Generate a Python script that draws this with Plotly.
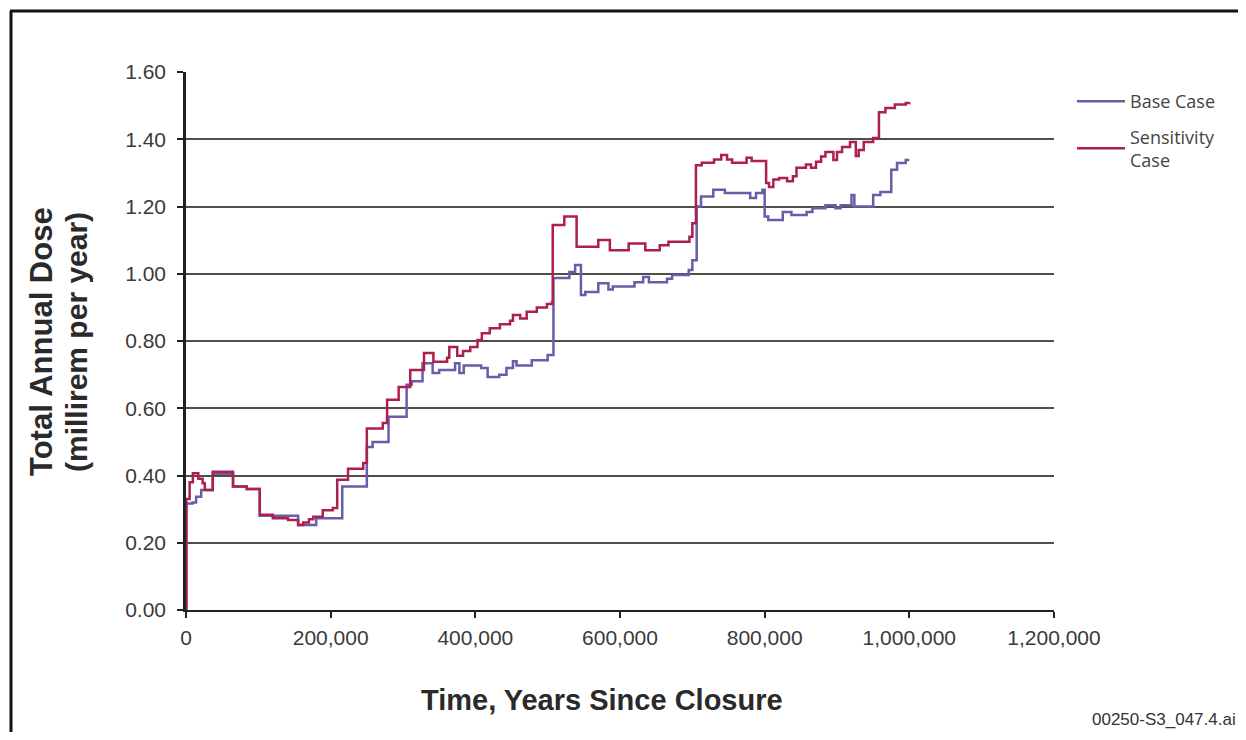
import plotly.graph_objects as go

# ---- data (years since closure, dose in millirem/yr) ----
base_x = [0, 500, 9000, 14000, 21000, 37000, 65000, 84000, 102000, 155000, 180000,
          216000, 250000, 258000, 280000, 305000, 312000, 327000, 341000, 350000,
          372000, 378000, 384000, 408000, 417000, 433000, 443000, 452000, 457000,
          478000, 500000, 508000, 530000, 538000, 546000, 552000, 570000, 584000,
          590000, 620000, 632000, 640000, 665000, 672000, 695000, 700000, 706000,
          712000, 729000, 745000, 780000, 788000, 797000, 800000, 805000, 825000,
          837000, 858000, 866000, 884000, 898000, 905000, 920000, 924000, 950000,
          960000, 975000, 983000, 995000, 1000000]
base_y = [0.0, 0.317, 0.32, 0.337, 0.357, 0.405, 0.367, 0.36, 0.28, 0.253, 0.273,
          0.367, 0.485, 0.5, 0.575, 0.67, 0.68, 0.734, 0.705, 0.714,
          0.734, 0.705, 0.727, 0.72, 0.693, 0.70, 0.72, 0.74, 0.727,
          0.743, 0.758, 0.987, 1.005, 1.026, 0.937, 0.946, 0.972, 0.953,
          0.962, 0.975, 0.99, 0.975, 0.985, 0.996, 1.011, 1.04, 1.2,
          1.23, 1.25, 1.24, 1.225, 1.24, 1.25, 1.17, 1.16, 1.184,
          1.175, 1.184, 1.195, 1.204, 1.195, 1.204, 1.234, 1.2, 1.234,
          1.243, 1.309, 1.329, 1.338, 1.338]

sens_x = [0, 500, 5000, 9500, 17000, 23000, 26000, 37000, 65000, 84000, 102000,
          120000, 141000, 155000, 162000, 170000, 176000, 189000, 203000, 209000,
          224000, 245000, 250000, 272000, 278000, 294000, 310000, 329000, 342000,
          361000, 364000, 375000, 383000, 393000, 403000, 409000, 420000, 434000,
          448000, 452000, 462000, 471000, 485000, 499000, 506000, 507000, 523000,
          540000, 570000, 586000, 612000, 635000, 655000, 667000, 696000, 700000,
          705000, 713000, 730000, 740000, 748000, 755000, 775000, 782000, 802000,
          806000, 812000, 820000, 831000, 839000, 844000, 857000, 864000, 871000,
          878000, 884000, 895000, 900000, 907000, 918000, 926000, 930000, 937000,
          950000, 958000, 967000, 980000, 995000, 1000000]
sens_y = [0.0, 0.33, 0.38, 0.407, 0.39, 0.377, 0.357, 0.411, 0.367, 0.36, 0.283,
          0.273, 0.268, 0.253, 0.26, 0.27, 0.277, 0.297, 0.303, 0.387,
          0.42, 0.437, 0.54, 0.556, 0.625, 0.663, 0.714, 0.764, 0.738,
          0.75, 0.782, 0.756, 0.77, 0.782, 0.803, 0.823, 0.838, 0.85,
          0.86, 0.877, 0.867, 0.887, 0.90, 0.91, 0.916, 1.145, 1.17,
          1.08, 1.10, 1.07, 1.09, 1.07, 1.085, 1.095, 1.11, 1.15,
          1.323, 1.33, 1.34, 1.353, 1.34, 1.33, 1.345, 1.335, 1.27,
          1.258, 1.28, 1.285, 1.275, 1.29, 1.315, 1.325, 1.315, 1.333,
          1.349, 1.362, 1.338, 1.362, 1.377, 1.392, 1.35, 1.368, 1.392,
          1.404, 1.48, 1.493, 1.503, 1.508, 1.51]

y_ticks = [0.0, 0.2, 0.4, 0.6, 0.8, 1.0, 1.2, 1.4, 1.6]
y_tick_labels = ["0.00", "0.20", "0.40", "0.60", "0.80", "1.00", "1.20", "1.40", "1.60"]
x_ticks = [0, 200000, 400000, 600000, 800000, 1000000, 1200000]
x_tick_labels = ["0", "200,000", "400,000", "600,000", "800,000", "1,000,000", "1,200,000"]

BASE_COLOR = "#6a5ca8"
SENS_COLOR = "#ad1f4c"
GRID_COLOR = "#544c47"
FONT = "Liberation Sans, Arial"
TICK_FONT = dict(family=FONT, size=21, color="#3a3a3a")

fig = go.Figure()
fig.add_trace(go.Scatter(x=base_x, y=base_y, mode="lines", name="Base Case",
                         legendgroup="base",
                         line=dict(color=BASE_COLOR, width=2.5, shape="hv")))
fig.add_trace(go.Scatter(x=sens_x, y=sens_y, mode="lines", name="Sensitivity<br>Case",
                         legendgroup="sens",
                         line=dict(color=SENS_COLOR, width=2.5, shape="hv")))

# page body has an 8px margin; work in page pixels and convert
OFF = 8
W, H = 1246 - OFF, 740 - 2 * OFF
PL, PR, PT, PB = 186, 1054, 72, 610          # plot area in page pixels
L, T = PL - OFF, PT - OFF
R, B = W - (PR - OFF), H - (PB - OFF)
pw, ph = PR - PL, PB - PT

def px2paper_x(px):
    return (px - PL) / pw

def py2paper_y(py):
    return (PB - py) / ph

fig.update_layout(
    width=W, height=H,
    margin=dict(l=L, r=R, t=T, b=B),
    paper_bgcolor="#ffffff", plot_bgcolor="#ffffff",
    showlegend=True,
    legend=dict(x=px2paper_x(1072), y=py2paper_y(83), xanchor="left", yanchor="top",
                font=dict(family="Open Sans", size=18, color="#444444"),
                bgcolor="rgba(0,0,0,0)", tracegroupgap=9, itemwidth=48),
    xaxis=dict(range=[0, 1200000], tickvals=x_ticks, ticktext=x_tick_labels,
               showgrid=False, zeroline=False, showline=True, linecolor="#222222",
               linewidth=2, ticks="outside", ticklen=6, tickwidth=2, tickcolor="#222222",
               tickfont=TICK_FONT, ticklabelstandoff=2),
    yaxis=dict(range=[0, 1.6], tickvals=y_ticks, ticktext=y_tick_labels,
               showgrid=True, gridcolor=GRID_COLOR, gridwidth=2,
               zeroline=False, showline=True, linecolor="#222222",
               linewidth=2.5, ticks="outside", ticklen=6, tickwidth=2, tickcolor="#222222",
               tickfont=TICK_FONT, ticklabelstandoff=7),
)

# lighter 0.20 gridline
fig.add_shape(type="line", xref="paper", yref="y", x0=0, x1=1, y0=0.2, y1=0.2,
              line=dict(color="#ffffff", width=3), layer="below")
fig.add_shape(type="line", xref="paper", yref="y", x0=0, x1=1, y0=0.2, y1=0.2,
              line=dict(color="#9b918c", width=1.5), layer="below")

# frame (left + top border)
fig.add_shape(type="line", xref="paper", yref="paper",
              x0=px2paper_x(11), x1=px2paper_x(11), y0=py2paper_y(11), y1=py2paper_y(745),
              line=dict(color="#111111", width=3))
fig.add_shape(type="line", xref="paper", yref="paper",
              x0=px2paper_x(10), x1=px2paper_x(1250), y0=py2paper_y(11), y1=py2paper_y(11),
              line=dict(color="#111111", width=3))

fig.add_annotation(text="<b>Total Annual Dose</b>",
                   xref="paper", yref="paper", x=px2paper_x(41), y=py2paper_y(342),
                   textangle=-90, showarrow=False, xanchor="center", yanchor="middle",
                   font=dict(family=FONT, size=31, color="#2a2a2a"))
fig.add_annotation(text="<b>(millirem per year)</b>",
                   xref="paper", yref="paper", x=px2paper_x(76), y=py2paper_y(342),
                   textangle=-90, showarrow=False, xanchor="center", yanchor="middle",
                   font=dict(family=FONT, size=30, color="#2a2a2a"))
fig.add_annotation(text="<b>Time, Years Since Closure</b>",
                   xref="paper", yref="paper", x=px2paper_x(602), y=py2paper_y(700),
                   showarrow=False, xanchor="center", yanchor="middle",
                   font=dict(family=FONT, size=29, color="#2a2a2a"))
fig.add_annotation(text="00250-S3_047.4.ai",
                   xref="paper", yref="paper", x=px2paper_x(1238), y=py2paper_y(720),
                   showarrow=False, xanchor="right", yanchor="middle",
                   font=dict(family=FONT, size=17, color="#333333"))

fig.write_html("out.html")
